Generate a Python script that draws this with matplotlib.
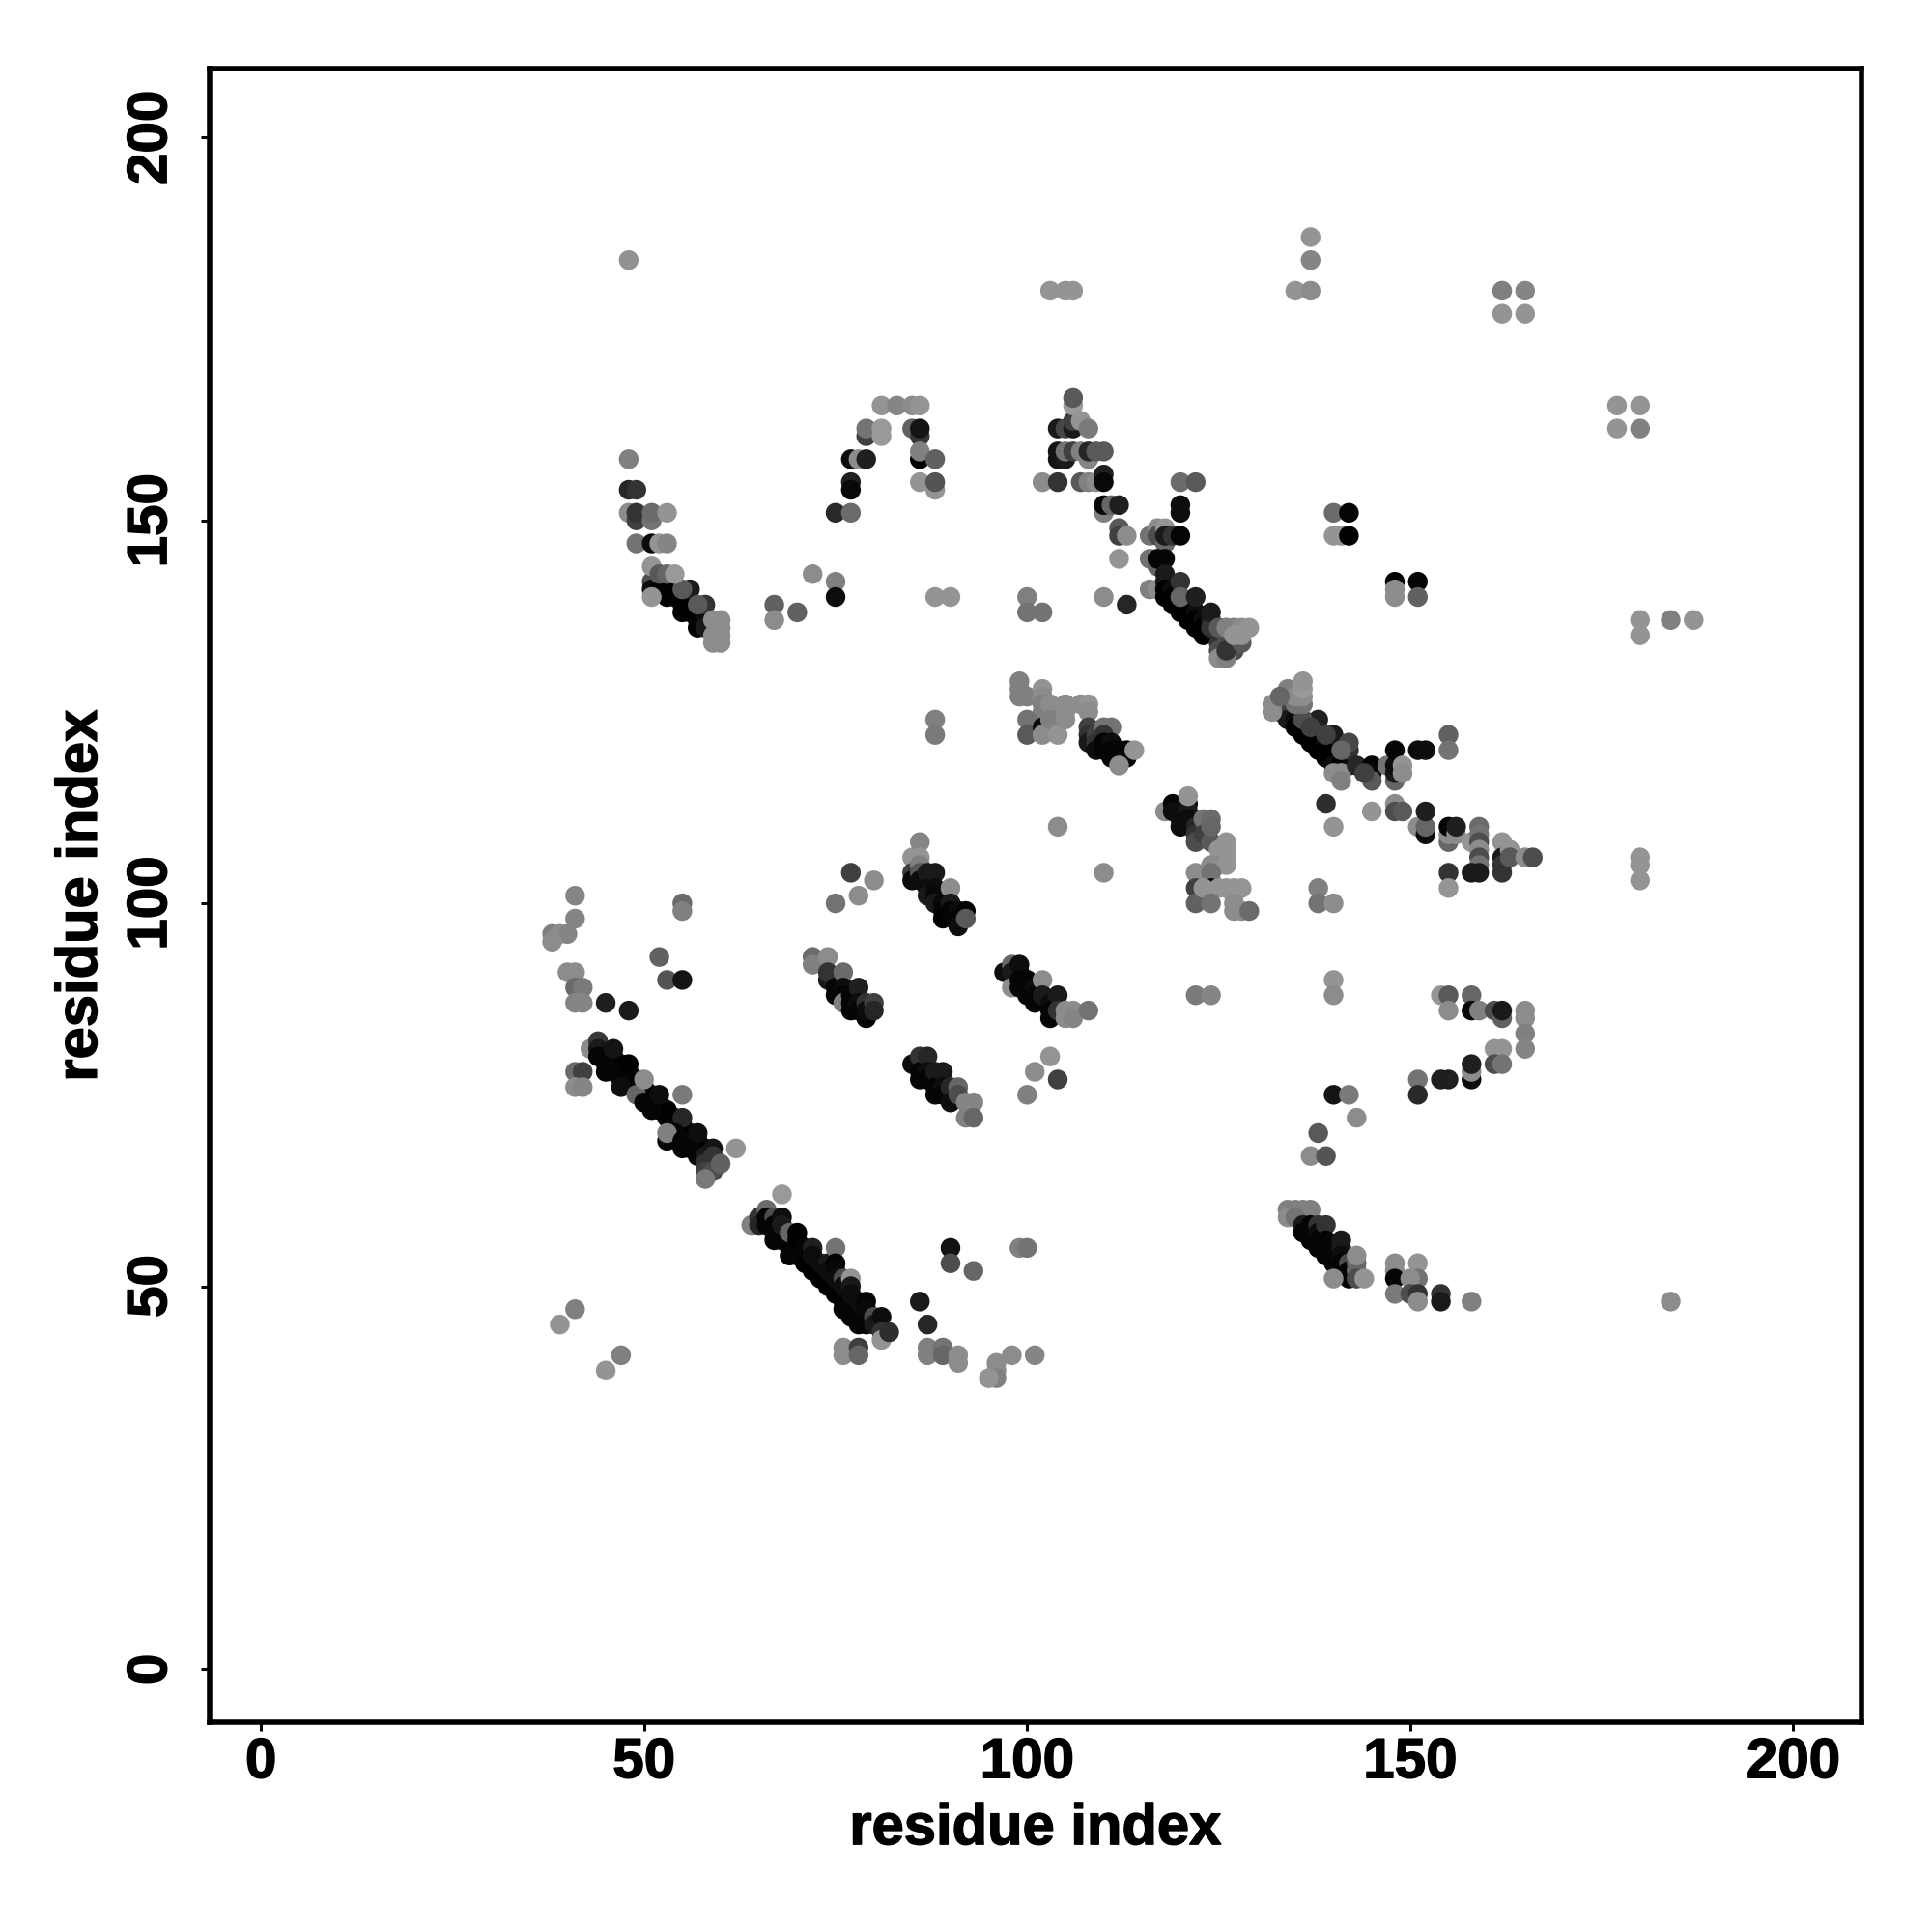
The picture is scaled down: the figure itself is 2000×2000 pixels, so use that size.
import matplotlib
matplotlib.use("Agg")
import matplotlib.pyplot as plt
import matplotlib.patheffects as pe

# contact points as (residue x, residue y, grey level)
band_core = [
    (46,79,.0),(47,78,.0),(48,77,.0),(49,76,.0),(50,75,.0),(51,74,.0),(52,73,.0),(53,72,.0),(54,71,.0),(55,70,.0),(56,69,.0),(57,68,.0),
    (46,80,.0),(47,79,.0),(48,78,.0),(49,77,.0),(50,76,.0),(51,75,.0),(52,74,.0),(53,73,.0),(54,72,.0),(55,71,.0),(56,70,.0),(57,69,.0),(58,68,.0),
    (68,57,.0),(69,56,.0),(70,55,.0),(71,54,.0),(72,53,.0),(73,52,.0),(74,51,.0),(75,50,.0),(76,49,.0),(77,48,.0),(78,47,.0),(79,46,.0),
    (68,56,.0),(69,55,.0),(70,54,.0),(71,53,.0),(72,52,.0),(73,51,.0),(74,50,.0),(75,49,.0),(76,48,.0),(77,47,.0),(78,46,.0),
    (119,141,.0),(120,140,.0),(121,139,.0),(122,138,.0),(123,137,.0),(124,136,.0),
    (136,124,.0),(137,123,.0),(138,122,.0),(139,121,.0),(140,120,.0),(141,119,.0),
    (138,57,.0),(139,56,.0),(140,55,.0),(141,54,.0),(142,53,.0),
    (75,90,.0),(76,89,.0),(77,88,.0),(78,87,.0),(79,86,.0),
    (87,103,.0),(88,102,.0),(89,101,.0),(90,100,.0),(91,99,.0),(87,102,.0),(88,101,.0),(89,100,.0),(90,99,.0),(91,98,.0),
    (99,91,.0),(100,90,.0),(101,89,.0),(102,88,.0),(103,87,.0),
    (87,78,.0),(88,77,.0),(89,76,.0),
]
top_scatter = [
    (48,184,.57),(103,180,.58),(105,180,.58),(106,180,.58),(135,180,.58),(137,180,.55),(137,184,.52),(137,187,.58),
    (162,180,.5),(165,180,.52),(162,177,.58),(165,177,.58),(177,165,.58),(180,165,.58),(177,162,.58),(180,162,.5),
    (180,137,.58),(180,135,.58),(184,137,.5),(187,137,.58),(148,142,.0),(151,142,.02),(148,141,.55),(148,140,.55),(151,140,.38),
    (140,151,.42),(142,151,.02),(140,148,.58),(141,148,.58),(142,148,.0),
    (88,140,.58),(90,140,.58),(88,124,.5),(88,122,.48),
    (67,139,.38),(67,137,.55),(70,138,.38),(72,143,.55),(75,142,.5),(75,140,.05),
    (100,140,.5),(100,138,.45),(102,138,.45),(110,140,.55),(113,139,.15),
]
arch_a = [
    (77,155,.12),(77,154,.03),(75,151,.16),(77,151,.42),(77,158,.05),(78,158,.55),(79,158,.12),
    (79,161,.25),(79,162,.45),(81,161,.6),(81,162,.6),(81,165,.58),(83,165,.52),(85,165,.55),(86,165,.58),
    (85,162,.38),(86,161,.22),(86,162,.08),(86,158,.0),(86,159,.5),(88,158,.38),(86,155,.58),(88,154,.58),(88,155,.33),
]
arch_b = [
    (48,158,.5),(48,154,.15),(49,154,.2),(48,151,.55),(49,150,.25),(49,151,.2),(51,150,.45),(51,151,.42),(53,151,.58),
    (49,147,.45),(51,147,.05),(52,147,.58),(53,147,.52),
]
band_a = [
    (51,142,.3),(51,141,.05),(52,141,.0),(53,141,.0),(53,140,.0),(54,140,.0),(55,140,.0),(55,139,.0),(55,138,.0),(56,139,.0),
    (56,138,.0),(57,138,.0),(57,137,.0),(57,136,.0),(58,137,.05),(58,136,.1),(56,141,.1),(58,139,.2),(57,139,.35),(55,141,.35),
    (51,140,.58),(51,144,.58),(52,143,.35),(53,143,.4),(54,143,.6),(59,137,.55),(60,137,.55),(60,136,.55),(59,135,.55),(60,135,.55),(59,134,.55),(60,134,.55),
]
arch_c = [
    (104,162,.1),(105,162,.28),(106,162,.1),(106,163,.25),(106,165,.6),(106,166,.35),(107,163,.58),(108,162,.48),
    (104,159,.08),(104,158,.08),(105,158,.1),(105,159,.45),(106,159,.25),(107,159,.5),(108,158,.52),(108,159,.15),(109,159,.35),(110,159,.35),
    (102,155,.55),(104,155,.2),(107,155,.35),(108,155,.5),(109,155,.55),(110,156,.12),(110,155,.03),
    (110,151,.5),(110,152,.02),(111,152,.4),(112,152,.12),(112,149,.35),(112,148,.25),(113,148,.55),(112,145,.58),
    (120,155,.42),(122,155,.35),(120,152,.05),(120,151,.05),
]
band_b = [
    (116,148,.45),(117,149,.55),(117,148,.3),(118,149,.58),(118,147,.4),(118,148,.1),(119,148,.2),(120,148,.02),
    (116,145,.45),(117,144,.4),(117,145,.02),(118,145,.02),(116,141,.5),(117,141,.55),(118,143,.1),(118,142,.1),(118,141,.0),(118,140,.0),
    (119,141,.05),(119,140,.0),(119,139,.0),(120,140,.0),(120,139,.0),(120,138,.0),(121,139,.05),(121,138,.0),(121,137,.0),(122,138,.05),(122,137,.0),(122,136,.0),
    (123,137,.05),(123,136,.0),(123,135,.0),(124,137,.1),(124,136,.2),(120,142,.2),(120,140,.4),(122,140,.12),(124,138,.1),
    (125,134,.2),(126,134,.3),(125,133,.3),(127,133,.3),(125,132,.55),(126,132,.5),(126,133,.2),(128,134,.35),(125,136,.35),
    (126,136,.5),(127,136,.5),(128,136,.55),(129,136,.58),(127,135,.58),(128,135,.58),
]
band_c = [
    (133,125,.15),(133,126,.25),(134,124,.1),(135,124,.05),(135,123,.0),(136,123,.0),(136,122,.0),(137,122,.0),(137,121,.0),(138,122,.05),(138,121,.0),
    (138,120,.0),(139,121,.05),(139,120,.0),(139,119,.0),(140,120,.0),(140,119,.0),(140,118,.05),(141,119,.05),(141,118,.0),(142,118,.03),
    (138,124,.12),(136,124,.3),(137,123,.25),(140,122,.1),(139,122,.25),(142,120,.2),(142,121,.28),(141,120,.4),
    (132,126,.55),(132,125,.55),(134,128,.5),(135,126,.45),(136,126,.45),(135,127,.55),(136,127,.55),(136,128,.6),(136,129,.58),(133,127,.4),
    (141,117,.55),(140,117,.55),(141,116,.5),(143,118,.15),(145,118,.02),(145,117,.03),(145,116,.35),(144,117,.25),
    (147,118,.45),(148,116,.4),(148,117,.1),(148,118,.05),(148,120,.02),(149,118,.58),(149,117,.55),
    (151,120,.05),(152,120,.05),(155,122,.38),(155,120,.45),
]
right_tail = [
    (139,113,.18),(140,110,.58),(145,112,.58),(148,113,.55),(148,112,.3),(149,112,.35),
    (151,110,.55),(152,109,.05),(152,110,.4),(152,112,.12),(155,108,.4),(155,109,.55),(155,110,.02),(156,109,.55),(156,110,.12),
    (158,108,.58),(159,110,.42),(159,109,.45),(159,108,.3),(159,107,.55),(159,106,.3),(159,105,.45),(158,104,.1),(159,104,.1),
    (155,104,.2),(155,102,.58),(162,108,.58),(162,106,.1),(162,105,.2),(162,104,.2),(163,107,.58),(163,106,.35),(165,106,.55),(166,106,.3),
    (180,106,.58),(180,105,.58),(180,103,.58),
]
band_d = [
    (118,112,.55),(119,113,.02),(119,112,.05),(120,112,.05),(120,111,.05),(120,110,.05),(121,113,.05),(121,112,.1),(121,111,.05),(122,110,.15),(122,109,.2),
    (122,108,.3),(123,111,.45),(123,109,.25),(124,111,.42),(124,108,.35),(121,114,.58),(124,110,.4),
    (125,107,.58),(126,108,.58),(126,107,.58),(126,106,.58),(124,105,.55),(125,105,.55),(126,105,.58),(124,103,.5),
    (122,104,.55),(124,104,.45),(122,102,.25),(122,100,.38),(124,102,.02),(123,102,.58),(125,102,.58),(126,102,.58),(127,102,.58),(128,102,.58),
    (124,100,.45),(127,101,.58),(127,100,.55),(127,99,.55),(128,99,.55),(129,99,.42),
    (110,104,.55),(104,110,.55),(138,102,.5),(138,100,.45),(140,100,.55),
]
band_e = [
    (99,129,.5),(99,128,.5),(99,127,.5),(100,127,.5),(102,128,.58),(102,127,.55),(102,126,.5),(102,125,.5),(103,126,.55),
    (100,124,.45),(100,122,.35),(102,123,.05),(102,122,.55),(103,124,.5),(104,122,.58),(105,126,.55),(105,125,.55),(105,124,.55),
    (107,126,.55),(108,126,.58),(108,125,.55),(108,123,.25),(108,122,.2),(108,121,.1),(109,122,.25),(109,121,.2),(109,120,.05),
    (110,123,.45),(111,123,.45),(110,122,.2),(110,121,.02),(110,120,.02),(111,121,.05),(111,120,.02),(111,119,.02),(112,120,.02),(112,119,.02),
    (113,120,.02),(113,119,.02),(112,118,.55),(114,120,.58),
]
mid_bands = [
    (72,93,.42),(72,92,.5),(74,93,.55),(74,90,.1),(74,91,.2),(75,89,.02),(75,88,.02),(76,91,.42),(76,89,.05),(76,88,.02),(76,87,.5),(77,88,.02),(77,87,.02),(77,86,.02),
    (78,89,.12),(78,87,.05),(78,86,.02),(79,87,.2),(79,85,.02),(79,86,.05),(80,87,.25),(80,86,.15),
    (85,106,.58),(85,104,.25),(85,103,.05),(86,108,.52),(86,106,.58),(86,105,.5),(86,104,.35),(86,103,.05),(87,104,.1),(87,102,.05),(87,101,.1),(88,104,.1),(88,102,.05),(88,101,.03),(88,100,.1),
    (89,100,.03),(89,99,.02),(89,98,.0),(90,102,.55),(90,100,.1),(90,99,.02),(91,99,.05),(91,98,.02),(91,97,.05),(92,99,.02),(92,98,.35),
    (97,91,.05),(98,92,.4),(98,91,.1),(98,89,.55),(99,92,.05),(99,90,.02),(99,89,.02),(100,90,.02),(100,88,.02),(101,89,.05),(101,88,.02),(101,87,.02),(102,90,.55),(102,88,.1),(103,87,.05),(103,86,.02),(103,85,.02),
    (104,88,.1),(104,86,.2),(105,86,.55),(105,85,.55),(106,86,.55),(106,85,.52),(108,86,.45),
    (85,79,.05),(86,80,.2),(86,78,.02),(86,77,.02),(87,80,.15),(87,78,.05),(87,77,.02),(88,78,.1),(88,76,.02),(88,75,.02),(89,78,.1),(89,76,.05),(89,75,.02),(90,76,.15),(90,74,.05),(91,76,.4),(91,75,.3),
    (92,74,.52),(93,74,.52),(92,72,.5),(93,72,.4),
]
mid_scatter = [
    (41,101,.52),(41,98,.52),(38,96,.5),(39,96,.55),(40,96,.52),(38,95,.55),(55,100,.42),(55,99,.5),(52,93,.38),(53,90,.33),(55,90,.08),
    (40,91,.55),(41,91,.55),(41,89,.42),(42,89,.48),(41,87,.52),(42,87,.52),(45,87,.12),(48,86,.1),
    (77,104,.25),(80,103,.55),(78,101,.55),(75,100,.45),(122,88,.48),(124,88,.52),(140,90,.58),(140,88,.55),
    (103,80,.58),(101,78,.55),(104,77,.25),(100,75,.5),
]
right_hook = [
    (154,88,.58),(155,88,.35),(155,86,.55),(158,88,.4),(158,86,.03),(159,86,.5),(161,86,.3),(162,85,.38),(162,86,.1),
    (165,86,.55),(165,85,.55),(165,83,.5),(165,81,.52),(161,81,.58),(162,81,.58),(161,79,.3),(162,79,.45),
    (158,77,.05),(158,78,.55),(158,79,.12),(151,77,.45),(154,77,.12),(155,77,.12),(151,75,.16),
    (140,75,.08),(142,75,.48),(143,72,.55),(138,70,.35),(137,67,.55),(139,67,.33),
]
band_f = [
    (41,78,.42),(42,78,.25),(41,76,.55),(42,76,.52),(43,81,.55),(44,82,.22),(44,81,.1),(44,80,.02),(45,80,.02),(45,79,.02),(45,78,.02),(46,81,.08),(46,78,.02),
    (47,77,.02),(47,76,.05),(48,79,.0),(49,75,.4),(50,74,.02),(51,73,.02),
    (50,77,.55),(52,75,.05),(55,75,.48),(55,72,.15),(53,69,.02),(54,70,.02),
    (53,70,.5),(55,69,.02),(55,68,.02),(56,68,.02),(57,70,.05),(57,67,.02),(58,67,.1),(58,66,.2),(59,68,.08),(59,67,.2),(58,65,.25),(59,65,.3),(58,64,.48),(60,66,.38),(62,68,.58),
]
band_g = [
    (64,58,.5),(65,59,.2),(65,58,.15),(66,60,.42),(66,59,.02),(66,58,.02),(67,59,.3),(67,58,.02),(67,57,.02),(67,56,.02),(68,62,.6),(68,59,.05),(68,58,.1),(69,57,.4),(69,54,.02),
    (70,57,.0),(70,56,.0),(71,55,.02),(72,55,.12),(72,54,.05),(73,53,.05),(74,53,.1),(74,52,.05),
    (75,55,.45),(75,53,.02),(75,52,.03),(75,51,.05),(76,51,.3),(76,50,.05),(76,47,.02),(77,51,.58),(77,50,.1),(77,49,.05),(77,46,.02),
    (78,48,.05),(78,45,.02),(79,48,.02),(79,47,.03),(79,45,.02),(80,46,.3),(80,45,.1),(81,46,.05),(81,44,.2),(81,43,.58),(82,44,.18),
]
low_scatter = [
    (41,47,.5),(39,45,.58),(47,41,.5),(45,39,.58),(76,42,.55),(76,41,.55),(78,42,.25),(78,41,.4),
    (86,48,.1),(87,45,.15),(87,42,.5),(87,41,.5),(89,42,.45),(89,41,.4),(91,41,.55),(91,40,.55),(96,40,.55),(96,39,.55),(96,38,.5),(95,38,.58),(98,41,.55),(101,41,.52),
    (90,55,.07),(90,53,.3),(93,52,.4),(99,55,.5),(100,55,.45),
]
band_h = [
    (134,60,.5),(135,60,.5),(136,60,.5),(137,60,.5),(134,59,.55),(135,59,.45),(136,58,.1),(136,57,.02),(137,58,.02),(137,57,.02),(137,56,.02),(138,58,.2),(138,57,.05),(138,56,.02),(138,55,.02),
    (139,58,.2),(139,56,.02),(139,55,.02),(139,54,.02),(140,55,.02),(140,54,.02),(140,53,.02),(141,56,.1),(141,55,.1),(141,54,.05),(141,53,.02),(142,53,.3),(142,52,.02),(142,51,.02),(143,52,.42),(143,53,.4),(143,51,.3),(143,54,.55),
    (140,51,.55),(144,51,.58),(148,53,.55),(148,52,.55),(148,51,.02),(148,49,.48),(151,53,.58),(151,51,.45),(150,51,.55),(150,49,.3),(151,49,.2),(151,48,.55),(154,49,.2),(154,48,.1),(158,48,.5),(184,48,.55),
]
clusters = [band_core, top_scatter, arch_a, arch_b, band_a, arch_c, band_b, band_c, right_tail, band_d, band_e,
            mid_bands, mid_scatter, right_hook, band_f, band_g, low_scatter, band_h]

tick_values = [0, 50, 100, 150, 200]

plt.rcParams['font.family'] = ['Liberation Sans', 'DejaVu Sans']
plt.rcParams['font.weight'] = 'bold'

fig = plt.figure(figsize=(10, 10), dpi=200)
ax = fig.add_axes([217 / 2000, 217 / 2000, 1710 / 2000, 1712 / 2000])

for points in clusters:
    xs = [p[0] for p in points]
    ys = [p[1] for p in points]
    greys = [str(p[2]) for p in points]
    ax.scatter(xs, ys, s=54, c=greys, linewidths=0, zorder=3)

ax.set_xlim(-6.7, 208.9)
ax.set_ylim(-6.95, 209)
ax.set_xticks(tick_values)
ax.set_yticks(tick_values)
ax.tick_params(axis='x', labelsize=21, length=3.2, width=1.1, pad=2.3)
ax.tick_params(axis='y', labelsize=21, length=3.2, width=1.1, pad=8.6)
for label in ax.get_yticklabels():
    label.set_rotation(90)
    label.set_va('center')
for spine in ax.spines.values():
    spine.set_linewidth(2.0)
ax.set_xlabel('residue index', fontsize=21.5, fontweight='bold', labelpad=5)
ax.set_ylabel('residue index', fontsize=21.5, fontweight='bold', labelpad=6.6)

# the reference type is a touch heavier than Liberation bold
heavier = [pe.withStroke(linewidth=0.5, foreground='black')]
for text in ax.get_xticklabels() + ax.get_yticklabels() + [ax.xaxis.label, ax.yaxis.label]:
    text.set_path_effects(heavier)

fig.savefig('out.png', dpi=200, facecolor='white')
